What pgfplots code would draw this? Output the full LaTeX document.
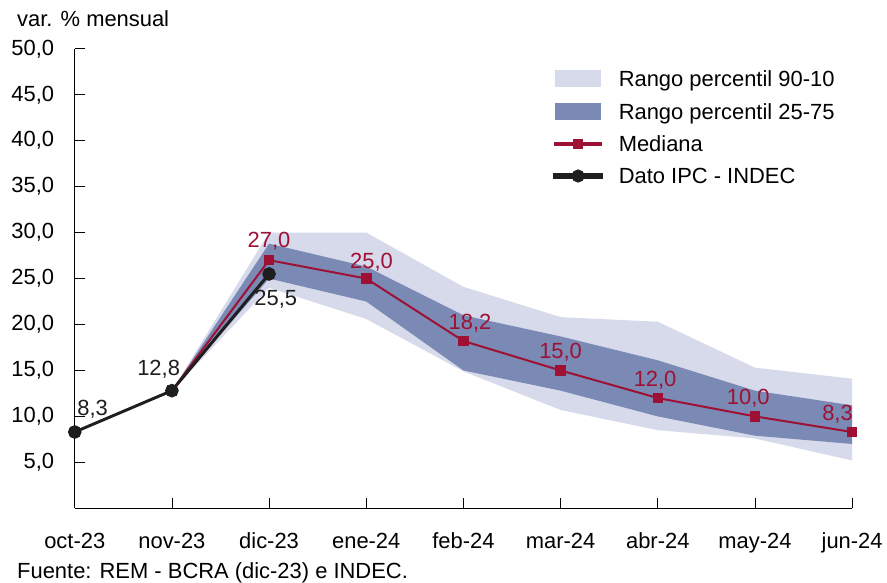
\documentclass[border=0pt]{standalone}
\usepackage{fontspec}
\setmainfont{Liberation Sans}
\usepackage{pgfplots}
\pgfplotsset{compat=1.18}
\usepgfplotslibrary{fillbetween}
\definecolor{lightband}{RGB}{214,218,234}
\definecolor{darkband}{RGB}{122,138,180}
\definecolor{medred}{RGB}{158,16,52}
\definecolor{ipcblack}{RGB}{30,30,30}
\begin{document}
\begin{tikzpicture}[font=\fontsize{16.5}{19.5}\selectfont]
\begin{axis}[
  at={(0pt,0pt)}, anchor=south west,
  scale only axis, width=585pt, height=345.75pt,
  xmin=0, xmax=8, ymin=0, ymax=50,
  clip=false,
  axis x line*=bottom, axis y line*=left,
  axis line style={black, line width=0.8pt, -},
  tick style={black, line width=0.6pt},
  tick align=inside, major tick length=7.5pt,
  xtick={0,1,...,8},
  xticklabels={oct-23,nov-23,dic-23,ene-24,feb-24,mar-24,abr-24,may-24,jun-24},
  ytick={5,10,...,50},
  xticklabel style={yshift=-15pt},
  yticklabel style={xshift=-12pt},
  /pgf/number format/.cd, fixed, fixed zerofill, precision=1, use comma, assume math mode=true,
  /pgfplots/.cd,
  legend style={at={(rel axis cs:0.6154,0.9555)}, anchor=north west, draw=none, fill=none,
    inner sep=0pt, row sep=10.5pt, column sep=11pt, font=\fontsize{16.5}{19.5}\selectfont,
    nodes={inner sep=1pt, text depth=0pt}},
  legend cell align=left,
]
% Percentiles
\addplot[name path=p90, draw=none, forget plot] coordinates {(1,12.8)(2,30.0)(3,30.0)(4,24.1)(5,20.8)(6,20.3)(7,15.3)(8,14.1)};
\addplot[name path=p10, draw=none, forget plot] coordinates {(1,12.8)(2,24.0)(3,20.6)(4,14.9)(5,10.7)(6,8.5)(7,7.6)(8,5.2)};
\addplot[name path=p75, draw=none, forget plot] coordinates {(1,12.8)(2,28.8)(3,26.3)(4,21.0)(5,18.7)(6,16.1)(7,12.8)(8,11.2)};
\addplot[name path=p25, draw=none, forget plot] coordinates {(1,12.8)(2,25.0)(3,22.5)(4,15.0)(5,12.8)(6,10.0)(7,7.9)(8,7.0)};
\addplot[fill=lightband, draw=none,
  legend image code/.code={\fill[lightband] (0pt,-6.4pt) rectangle (35pt,6.4pt);}]
  fill between[of=p90 and p10];
\addlegendentry{Rango percentil 90-10}
\addplot[fill=darkband, draw=none,
  legend image code/.code={\fill[darkband] (0pt,-6.4pt) rectangle (35pt,6.4pt);}]
  fill between[of=p75 and p25];
\addlegendentry{Rango percentil 25-75}
% Median
\addplot[medred, line width=1.5pt, mark=square*, mark size=3.2pt,
  legend image code/.code={\fill[medred] (0pt,-0.75pt) rectangle (35pt,0.75pt);
    \fill[medred] (14.5pt,-3pt) rectangle (20.5pt,3pt);}]
  coordinates {(1,12.8)(2,27.0)(3,25.0)(4,18.2)(5,15.0)(6,12.0)(7,10.0)(8,8.3)};
\addlegendentry{Mediana}
% IPC
\addplot[ipcblack, line width=2.2pt, mark=*, mark size=4pt,
  legend image code/.code={\fill[ipcblack] (0pt,-1.1pt) rectangle (35pt,1.1pt);
    \fill[ipcblack] (17.5pt,0pt) circle[radius=3.8pt];}]
  coordinates {(0,8.3)(1,12.8)(2,25.5)};
\addlegendentry{Dato IPC - INDEC}
% Labels
\node[medred, anchor=south, yshift=4pt] at (axis cs:2,27.0) {27,0};
\node[medred, anchor=south, yshift=2pt, xshift=4pt] at (axis cs:3,25.0) {25,0};
\node[medred, anchor=south, yshift=3pt, xshift=5pt] at (axis cs:4,18.2) {18,2};
\node[medred, anchor=south, yshift=3pt] at (axis cs:5,15.0) {15,0};
\node[medred, anchor=south, yshift=3pt, xshift=-2pt] at (axis cs:6,12.0) {12,0};
\node[medred, anchor=south, yshift=3pt, xshift=-5pt] at (axis cs:7,10.0) {10,0};
\node[medred, anchor=south, yshift=3pt, xshift=-11pt] at (axis cs:8,8.3) {8,3};
\node[ipcblack, anchor=south, yshift=7pt, xshift=13.5pt] at (axis cs:0,8.3) {8,3};
\node[ipcblack, anchor=south, yshift=6pt, xshift=-10pt] at (axis cs:1,12.8) {12,8};
\node[ipcblack, anchor=north, yshift=-8.5pt, xshift=5pt] at (axis cs:2,25.5) {25,5};
\end{axis}
\node[anchor=base west, inner sep=0pt] at (-43.5pt,362.25pt) {var. \% mensual};
\node[anchor=base west, inner sep=0pt] at (-43.5pt,-52.5pt) {Fuente: REM - BCRA (dic-23) e INDEC.};
\path[use as bounding box] (-56.25pt,-55.5pt) rectangle (609pt,382.5pt);
\end{tikzpicture}
\end{document}
